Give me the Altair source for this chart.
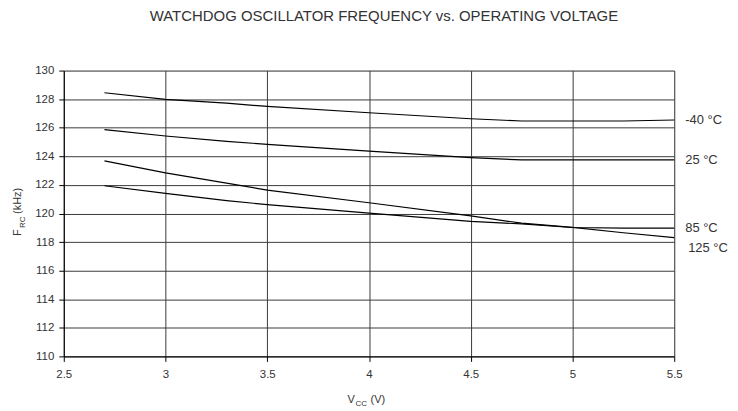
import altair as alt
import pandas as pd

# Supply voltage (V)
volts = [2.7, 3.0, 3.3, 3.5, 4.0, 4.5, 4.75, 5.0, 5.25, 5.5]
# Watchdog oscillator frequency (kHz) per temperature
f_m40 = [128.45, 127.98, 127.72, 127.49, 127.05, 126.63, 126.47, 126.47, 126.47, 126.54]
f_25 = [125.87, 125.42, 125.05, 124.84, 124.36, 123.91, 123.75, 123.75, 123.75, 123.75]
f_85 = [121.94, 121.41, 120.90, 120.62, 120.02, 119.45, 119.27, 119.02, 118.98, 118.98]
f_125 = [123.68, 122.84, 122.12, 121.64, 120.75, 119.83, 119.32, 119.03, 118.65, 118.31]

series = {"-40 °C": f_m40, "25 °C": f_25, "85 °C": f_85, "125 °C": f_125}

x_ticks = [2.5, 3.0, 3.5, 4.0, 4.5, 5.0, 5.5]
y_ticks = [110, 112, 114, 116, 118, 120, 122, 124, 126, 128, 130]

rows = []
for name, vals in series.items():
    for v, f in zip(volts, vals):
        rows.append({"V": v, "F": f, "temp": name})
df = pd.DataFrame(rows)
last = pd.DataFrame([{"V": volts[-1], "F": vals[-1], "temp": name} for name, vals in series.items()])

FONT = "Liberation Sans"
TXT = "#333333"
GRID = "#3a3a3a"

x_enc = alt.X(
    "V:Q",
    scale=alt.Scale(domain=[2.5, 5.5], nice=False, zero=False),
    axis=alt.Axis(values=x_ticks, format="~g", title=None, grid=True, gridColor=GRID,
                  gridWidth=1, gridOpacity=1, domainColor="#000", tickColor="#000",
                  tickSize=5, labelPadding=7, labelFontSize=11.5, labelFont=FONT,
                  labelColor=TXT, labelFlush=False, labelOverlap=False),
)
y_enc = alt.Y(
    "F:Q",
    scale=alt.Scale(domain=[110, 130], nice=False, zero=False),
    axis=alt.Axis(values=y_ticks, tickCount=11, title=None, grid=True, gridColor=GRID, gridWidth=1,
                  gridOpacity=1, domainColor="#000", tickColor="#000", tickSize=5,
                  labelPadding=5, labelFontSize=11.5, labelFont=FONT, labelColor=TXT,
                  labelOverlap=False, labelFlush=False),
)

lines = alt.Chart(df).mark_line(color="#000000", strokeWidth=1.2).encode(
    x=x_enc, y=y_enc, detail="temp:N"
)

lab_main = alt.Chart(last).transform_filter(alt.datum.temp != "125 °C").mark_text(
    align="left", baseline="middle", dx=11, fontSize=13, font=FONT, color=TXT
).encode(x=x_enc, y=y_enc, text="temp:N")

lab_125 = alt.Chart(last).transform_filter(alt.datum.temp == "125 °C").mark_text(
    align="left", baseline="middle", dx=14, dy=10, fontSize=13, font=FONT, color=TXT
).encode(x=x_enc, y=y_enc, text="temp:N")

# Axis titles with subscripts
def txt(s, x, y, size, angle=0):
    return alt.Chart(pd.DataFrame({"t": [s]})).mark_text(
        align="left", baseline="alphabetic", fontSize=size, font=FONT, color=TXT, angle=angle
    ).encode(x=alt.value(x), y=alt.value(y), text="t:N")

xt = txt("V", 285, 334, 11) + txt("CC", 293, 336.5, 8) + txt("(V)", 308, 334, 11)
yt = txt("F", -43, 166, 11, 270) + txt("RC", -38.5, 158, 8, 270) + txt("(kHz)", -43, 144, 11, 270)

chart = alt.layer(lines, lab_main, lab_125, xt, yt).properties(
    width=613,
    height=287,
    autosize=alt.AutoSizeParams(type="none"),
    padding={"left": 56, "top": 62, "right": 56, "bottom": 53},
    title=alt.TitleParams(
        text="WATCHDOG OSCILLATOR FREQUENCY vs. OPERATING VOLTAGE",
        fontSize=15, font=FONT, fontWeight="normal", color=TXT,
        anchor="middle", frame="group", dx=15, offset=41,
    ),
).configure_view(stroke="#808080", strokeWidth=1).configure(background="white")

chart.save("out.html", embed_options={"renderer": "svg", "actions": False})
